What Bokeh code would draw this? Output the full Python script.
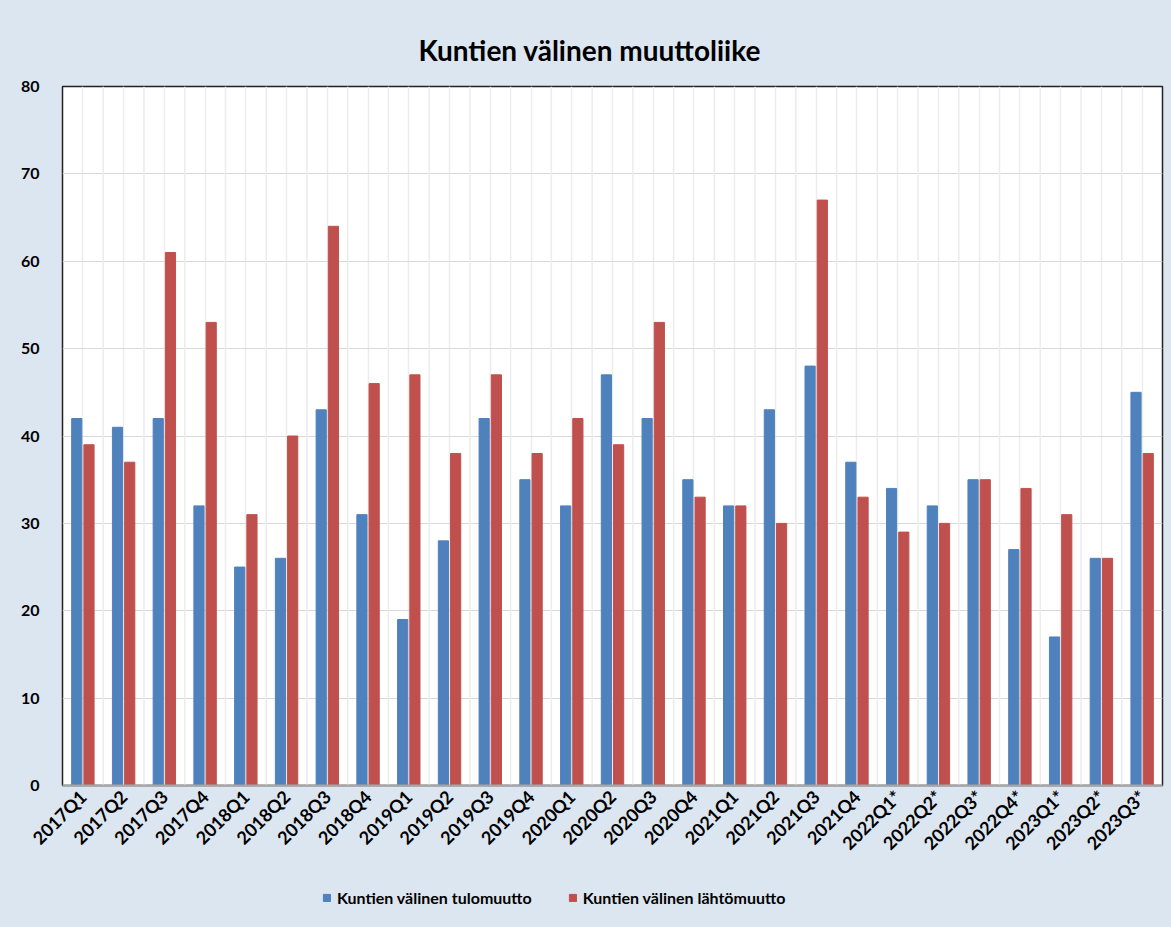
from bokeh.plotting import figure
from bokeh.layouts import column
from bokeh.models import FactorRange, Legend, LegendItem, Span, ColumnDataSource
from bokeh.transform import dodge
from bokeh.embed import file_html
from bokeh.resources import INLINE
import math

quarters = ["2017Q1", "2017Q2", "2017Q3", "2017Q4", "2018Q1", "2018Q2", "2018Q3", "2018Q4",
            "2019Q1", "2019Q2", "2019Q3", "2019Q4", "2020Q1", "2020Q2", "2020Q3", "2020Q4",
            "2021Q1", "2021Q2", "2021Q3", "2021Q4", "2022Q1*", "2022Q2*", "2022Q3*", "2022Q4*",
            "2023Q1*", "2023Q2*", "2023Q3*"]
tulomuutto = [42, 41, 42, 32, 25, 26, 43, 31, 19, 28, 42, 35, 32, 47, 42, 35,
              32, 43, 48, 37, 34, 32, 35, 27, 17, 26, 45]
lahtomuutto = [39, 37, 61, 53, 31, 40, 64, 46, 47, 38, 47, 38, 42, 39, 53, 33,
               32, 30, 67, 33, 29, 30, 35, 34, 31, 26, 38]
y_ticks = [0, 10, 20, 30, 40, 50, 60, 70, 80]
title_text = "Kuntien välinen muuttoliike"
name_in = "Kuntien välinen tulomuutto"
name_out = "Kuntien välinen lähtömuutto"

FONT = "Lato"
BG = "#dce6f1"
BLUE = "#4f81bd"
RED = "#c0504d"

src = ColumnDataSource(dict(q=quarters, tulo=tulomuutto, lahto=lahtomuutto))

p = figure(x_range=FactorRange(*quarters), y_range=(0, 80),
           width=1171, height=870, output_backend="svg", toolbar_location=None,
           title=title_text)
p.min_border_left = 62
p.min_border_right = 9
p.min_border_top = 86
p.min_border_bottom = 85
p.background_fill_color = "white"
p.border_fill_color = BG
p.outline_line_color = "#222222"
p.outline_line_width = 1.5

p.title.align = "left"
p.title.offset = 356
p.title.text_font = FONT
p.title.text_font_size = "28px"
p.title.text_font_style = "bold"
p.title.text_color = "#000000"
p.title.standoff = 40

# grid
p.ygrid.ticker = y_ticks
p.ygrid.grid_line_color = "#d9d9d9"
p.ygrid.grid_line_width = 1.2
p.xgrid.grid_line_color = "#ececec"
p.xgrid.grid_line_width = 1.5
for k in range(1, len(quarters)):
    p.add_layout(Span(location=k, dimension="height", line_color="#ececec", line_width=1.5, level="underlay"))

r1 = p.vbar(x=dodge("q", -0.15, range=p.x_range), top="tulo", width=0.25, source=src,
            fill_color=BLUE, line_color=BLUE)
r2 = p.vbar(x=dodge("q", 0.15, range=p.x_range), top="lahto", width=0.25, source=src,
            fill_color=RED, line_color=RED)

# axes
p.yaxis.ticker = y_ticks
p.yaxis.axis_line_color = None
p.yaxis.major_tick_line_color = None
p.yaxis.minor_tick_line_color = None
p.yaxis.major_label_text_font = FONT
p.yaxis.major_label_text_font_size = "16px"
p.yaxis.major_label_text_font_style = "bold"
p.yaxis.major_label_text_color = "#000000"
p.yaxis.major_label_standoff = 17

p.xaxis.axis_line_color = "#a6a6a6"
p.xaxis.axis_line_width = 2
p.xaxis.major_tick_line_color = None
p.xaxis.minor_tick_line_color = None
p.xaxis.major_label_orientation = math.pi / 4
p.xaxis.major_label_text_font = FONT
p.xaxis.major_label_text_font_size = "18px"
p.xaxis.major_label_text_font_style = "bold"
p.xaxis.major_label_text_color = "#000000"
p.xaxis.major_label_standoff = 2
p.x_range.range_padding = 0
p.x_range.group_padding = 0

# legend strip below the chart (same data, bars kept out of view)
lg = figure(x_range=FactorRange(*quarters), y_range=(1000, 1001), width=1171, height=57,
            output_backend="svg", toolbar_location=None,
            x_axis_location=None, y_axis_location=None,
            min_border_left=0, min_border_right=0, min_border_top=0, min_border_bottom=0,
            styles={"background-color": BG})
lg.grid.visible = False
lg.outline_line_color = None
lg.background_fill_alpha = 0
lg.border_fill_alpha = 0
l1 = lg.vbar(x=dodge("q", -0.15, range=lg.x_range), top="tulo", width=0.25, source=src,
             fill_color=BLUE, line_color=BLUE)
l2 = lg.vbar(x=dodge("q", 0.15, range=lg.x_range), top="lahto", width=0.25, source=src,
             fill_color=RED, line_color=RED)
legend = Legend(items=[LegendItem(label=name_in, renderers=[l1]),
                       LegendItem(label=name_out, renderers=[l2])],
                orientation="horizontal", location=(260, 20),
                background_fill_alpha=0, border_line_color=None,
                label_text_font=FONT, label_text_font_size="16px",
                label_text_font_style="bold", label_text_color="#000000",
                glyph_width=9, glyph_height=9, spacing=36, label_standoff=6,
                label_height=16, margin=0, padding=4)
lg.add_layout(legend, "center")

layout = column(p, lg, spacing=0, styles={"background-color": BG})
html = file_html(layout, INLINE)
open("out.html", "w").write(html)
